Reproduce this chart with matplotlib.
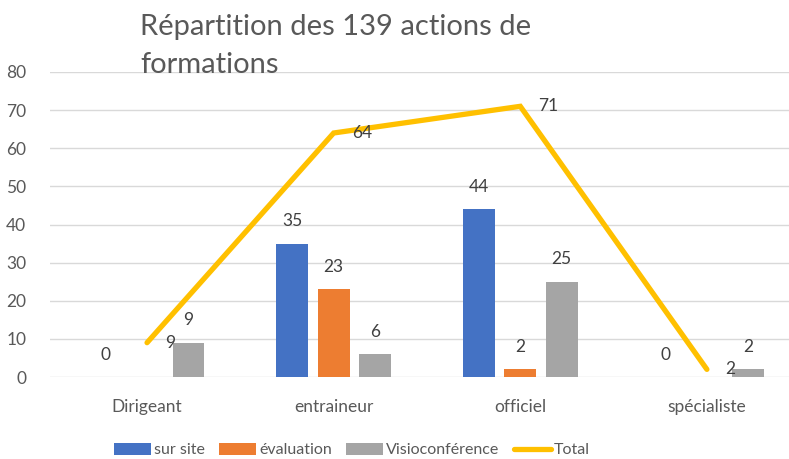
import numpy as np
import matplotlib.pyplot as plt

plt.rcParams['font.family'] = ['Lato', 'DejaVu Sans']

categories = ["Dirigeant", "entraineur", "officiel", "spécialiste"]
sur_site = [0, 35, 44, 0]
evaluation = [np.nan, 23, 2, np.nan]
visio = [9, 6, 25, 2]
total = [9, 64, 71, 2]
y_ticks = [0, 10, 20, 30, 40, 50, 60, 70, 80]

BLUE = "#4472C4"
ORANGE = "#ED7D31"
GRAY = "#A5A5A5"
GOLD = "#FFC000"
TXT = "#404040"

W, H = 789, 459
fig = plt.figure(figsize=(W / 100, H / 100), dpi=100)
# axes placed in pixel terms
left, right, bottom, top = 50, 789, 377, 72
ax = fig.add_axes([left / W, 1 - bottom / H, (right - left) / W, (bottom - top) / H])

x = np.arange(len(categories))
bw = 0.171
off = 0.222

series = [(sur_site, BLUE, "sur site", -off),
          (evaluation, ORANGE, "évaluation", 0),
          (visio, GRAY, "Visioconférence", off)]

for vals, col, lab, dx in series:
    ax.bar(x + dx, vals, width=bw, color=col, label=lab, zorder=2)
    for xi, v in zip(x + dx, vals):
        if np.isnan(v):
            continue
        ax.annotate(f"{v:g}", (xi, v), xytext=(0, 16), textcoords="offset points",
                    ha="center", va="center", fontsize=12.5, color=TXT, zorder=4)

ax.plot(x, total, color=GOLD, lw=3.8, solid_capstyle="round",
        solid_joinstyle="miter", label="Total", zorder=3)
for xi, v in zip(x, total):
    ax.annotate(f"{v}", (xi, v), xytext=(13, 0), textcoords="offset points",
                ha="left", va="center", fontsize=12.5, color=TXT, zorder=4)

ax.set_ylim(0, 80)
ax.set_xlim(-0.52, 3.44)
ax.set_yticks(y_ticks)
ax.set_xticks(x)
ax.set_xticklabels(categories)
ax.yaxis.grid(True, color="#D9D9D9", lw=1, zorder=0)
ax.set_axisbelow(True)
for s in ax.spines.values():
    s.set_visible(False)
ax.tick_params(axis="both", length=0, labelsize=12.5, labelcolor="#595959")
ax.tick_params(axis="y", pad=17)
ax.tick_params(axis="x", pad=16)

fig.text(140 / W, 1 - 14 / H, "Répartition des 139 actions de\nformations",
         ha="left", va="top", fontsize=21, color="#595959", linespacing=1.55)

handles, labels = ax.get_legend_handles_labels()
order = [1, 2, 3, 0]
leg = fig.legend([handles[i] for i in order], [labels[i] for i in order],
                 loc="center", bbox_to_anchor=(352 / W, 1 - 450 / H), ncol=4,
                 frameon=False, fontsize=11.5, handlelength=2.3, handleheight=0.8,
                 handletextpad=0.2, columnspacing=0.9)
for t in leg.get_texts():
    t.set_color("#595959")

fig.savefig("out.png", dpi=100)
